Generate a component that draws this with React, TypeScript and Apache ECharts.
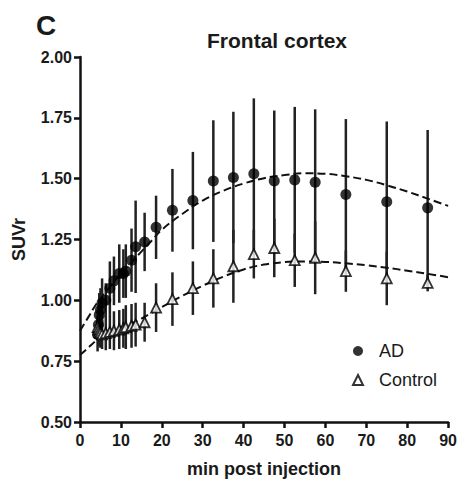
import React, { useEffect, useRef } from "react";
import * as echarts from "echarts";

// Frame mid-times (min post injection)
const times = [4.3, 4.5, 4.7, 5.0, 5.4, 6.3, 7.3, 8.3, 9.6, 10.6, 11.2, 12.6, 13.6, 15.8, 18.6, 22.6, 27.6, 32.6, 37.5, 42.5, 47.5, 52.5, 57.5, 65, 75, 85];
const adMean = [0.86, 0.9, 0.94, 0.96, 0.99, 1.0, 1.05, 1.08, 1.11, 1.11, 1.12, 1.165, 1.22, 1.24, 1.3, 1.37, 1.41, 1.49, 1.505, 1.52, 1.49, 1.495, 1.485, 1.435, 1.405, 1.38];
const adSD = [0.07, 0.08, 0.09, 0.09, 0.1, 0.07, 0.11, 0.1, 0.12, 0.1, 0.11, 0.13, 0.19, 0.12, 0.13, 0.17, 0.2, 0.25, 0.27, 0.31, 0.29, 0.3, 0.3, 0.31, 0.33, 0.32];
const controlMean = [0.89, 0.88, 0.87, 0.865, 0.86, 0.865, 0.87, 0.875, 0.88, 0.885, 0.89, 0.895, 0.9, 0.91, 0.97, 1.005, 1.05, 1.09, 1.14, 1.19, 1.215, 1.165, 1.175, 1.12, 1.09, 1.072];
const controlSD = [0.05, 0.05, 0.06, 0.06, 0.06, 0.07, 0.07, 0.08, 0.08, 0.08, 0.09, 0.09, 0.09, 0.08, 0.1, 0.11, 0.11, 0.12, 0.15, 0.1, 0.12, 0.11, 0.15, 0.085, 0.11, 0.035];

// Fitted curves
const fitTimes = [0, 2, 4, 6, 8, 10, 12.5, 15, 17.5, 20, 25, 30, 35, 40, 45, 50, 55, 60, 65, 70, 75, 80, 85, 90];
const adFit = [0.875, 0.93, 0.985, 1.03, 1.07, 1.11, 1.155, 1.2, 1.245, 1.29, 1.355, 1.41, 1.45, 1.48, 1.502, 1.515, 1.522, 1.52, 1.51, 1.495, 1.473, 1.447, 1.418, 1.388];
const controlFit = [0.775, 0.805, 0.835, 0.86, 0.877, 0.89, 0.905, 0.925, 0.948, 0.972, 1.018, 1.06, 1.097, 1.127, 1.147, 1.157, 1.16, 1.158, 1.152, 1.144, 1.134, 1.122, 1.109, 1.095];

const FONT = "Liberation Sans, Arial, Helvetica, sans-serif";
const INK = "#1a1a1a";

function errorSeries(name: string, mean: number[], sd: number[]) {
  return {
    type: "custom",
    name: name + " SD",
    z: 1,
    silent: true,
    data: times.map((t, i) => [t, mean[i], sd[i]]),
    renderItem: (params: any, api: any) => {
      const x = api.value(0);
      const y = api.value(1);
      const e = api.value(2);
      const top = api.coord([x, y + e]);
      const bot = api.coord([x, y - e]);
      return {
        type: "line",
        shape: { x1: top[0], y1: top[1], x2: bot[0], y2: bot[1] },
        style: { stroke: "#222", lineWidth: 2.5 },
      };
    },
  };
}

export default function App() {
  const ref = useRef<HTMLDivElement>(null);
  useEffect(() => {
    if (!ref.current) return;
    const chart = echarts.init(ref.current, undefined, { renderer: "svg" });
    chart.setOption({
      animation: false,
      backgroundColor: "#fff",
      title: [
        { text: "C", left: 31, top: 6, textStyle: { fontFamily: FONT, fontSize: 28, fontWeight: "bold", color: INK } },
        { text: "Frontal cortex", left: 202, top: 25, textStyle: { fontFamily: FONT, fontSize: 21, fontWeight: "bold", color: INK } },
      ],
      legend: {
        orient: "vertical",
        left: 347,
        top: 336,
        itemWidth: 10,
        itemHeight: 10,
        itemGap: 9,
        data: [
          { name: "AD", icon: "circle" },
          { name: "Control", icon: "triangle" },
        ],
        textStyle: { fontFamily: FONT, fontSize: 18, color: INK, padding: [0, 0, 0, 11], lineHeight: 20 },
      },
      grid: { left: 80, right: 11, top: 57, bottom: 59, containLabel: false },
      xAxis: {
        type: "value",
        min: 0,
        max: 90,
        interval: 10,
        name: "min post injection",
        nameLocation: "middle",
        nameGap: 38,
        nameTextStyle: { fontFamily: FONT, fontSize: 18, fontWeight: "bold", color: INK },
        axisLine: { lineStyle: { color: "#111", width: 2.5 } },
        axisTick: { length: 6, lineStyle: { color: "#111", width: 2.5 } },
        axisLabel: { fontFamily: FONT, fontSize: 16, fontWeight: "bold", color: INK, margin: 10 },
        splitLine: { show: false },
      },
      yAxis: {
        type: "value",
        min: 0.5,
        max: 2.0,
        interval: 0.25,
        name: "SUVr",
        nameLocation: "middle",
        nameGap: 52,
        nameTextStyle: { fontFamily: FONT, fontSize: 18, fontWeight: "bold", color: INK },
        axisLine: { show: true, lineStyle: { color: "#111", width: 2.5 } },
        axisTick: { show: true, length: 6, lineStyle: { color: "#111", width: 2.5 } },
        axisLabel: { fontFamily: FONT, fontSize: 16, fontWeight: "bold", color: INK, margin: 8, formatter: (v: number) => v.toFixed(2) },
        splitLine: { show: false },
      },
      series: [
        errorSeries("AD", adMean, adSD),
        errorSeries("Control", controlMean, controlSD),
        {
          type: "line",
          name: "AD fit",
          data: fitTimes.map((t, i) => [t, adFit[i]]),
          smooth: 0.4,
          showSymbol: false,
          symbol: "none",
          silent: true,
          z: 2,
          lineStyle: { color: "#111", width: 2, type: [8, 4] },
        },
        {
          type: "line",
          name: "Control fit",
          data: fitTimes.map((t, i) => [t, controlFit[i]]),
          smooth: 0.4,
          showSymbol: false,
          symbol: "none",
          silent: true,
          z: 2,
          lineStyle: { color: "#111", width: 2, type: [8, 4] },
        },
        {
          type: "scatter",
          name: "AD",
          data: times.map((t, i) => [t, adMean[i]]),
          symbol: "circle",
          symbolSize: 11,
          z: 3,
          itemStyle: { color: "#000" },
        },
        {
          type: "scatter",
          name: "Control",
          data: times.map((t, i) => [t, controlMean[i]]),
          symbol: "triangle",
          symbolSize: 10,
          z: 4,
          itemStyle: { color: "#fff", borderColor: "#000", borderWidth: 1.8 },
        },
      ],
    });
    return () => chart.dispose();
  }, []);
  return <div ref={ref} style={{ position: "fixed", left: 0, top: 0, width: 460, height: 483 }} />;
}
